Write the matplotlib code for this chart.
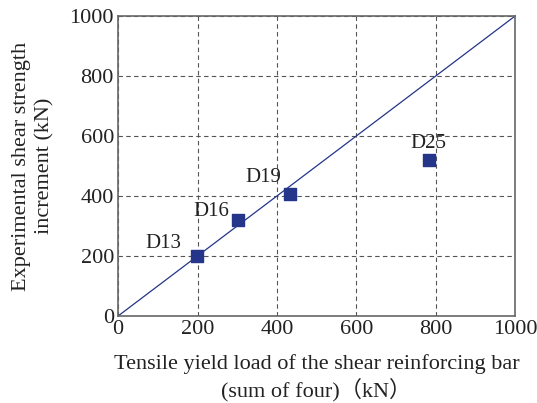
import numpy as np
import matplotlib.pyplot as plt

plt.rcParams['font.family'] = ['Liberation Serif', 'DejaVu Serif']

# bar sizes and measured values (kN)
labels   = ['D13', 'D16', 'D19', 'D25']
yield_ld = [199, 302, 433, 783]
strength = [200, 320, 407, 520]
ticks    = [0, 200, 400, 600, 800, 1000]

navy = '#24358a'

fig = plt.figure(figsize=(5.37, 4.03), dpi=100)
ax  = fig.add_axes([0.22, 0.216, 0.739, 0.744])

ax.plot([0, 1000], [0, 1000], color=navy, linewidth=0.9, zorder=2)
ax.scatter(yield_ld, strength, marker='s', s=80, color=navy, zorder=3)

# text offsets for each bar label (in points)
offsets = [(-24, 2), (-19, -1), (-19, 5), (0, 5)]
for lab, x, y, off in zip(labels, yield_ld, strength, offsets):
    ax.annotate(lab, (x, y), xytext=off, textcoords='offset points',
                ha='center', va='bottom', fontsize=15, color='#222222')

ax.set_xlim(0, 1000)
ax.set_ylim(0, 1000)
ax.set_xticks(ticks)
ax.set_yticks(ticks)
ax.tick_params(labelsize=16, length=0, pad=3, colors='#222222')
ax.grid(True, linestyle=(0, (4, 3)), color='#555555', linewidth=0.8)
ax.set_axisbelow(True)
for sp in ax.spines.values():
    sp.set_color('#666666')
    sp.set_linewidth(1.2)

ax.set_xlabel('Tensile yield load of the shear reinforcing bar\n(sum of four)\uff08kN\uff09',
              fontsize=16, color='#222222', linespacing=1.22, labelpad=11,
              family=['Liberation Serif', 'Noto Sans CJK JP'])
ax.set_ylabel('Experimental shear strength\nincrement (kN)', fontsize=16,
              color='#222222', linespacing=1.25, labelpad=11)

fig.savefig('out.png', dpi=100)
